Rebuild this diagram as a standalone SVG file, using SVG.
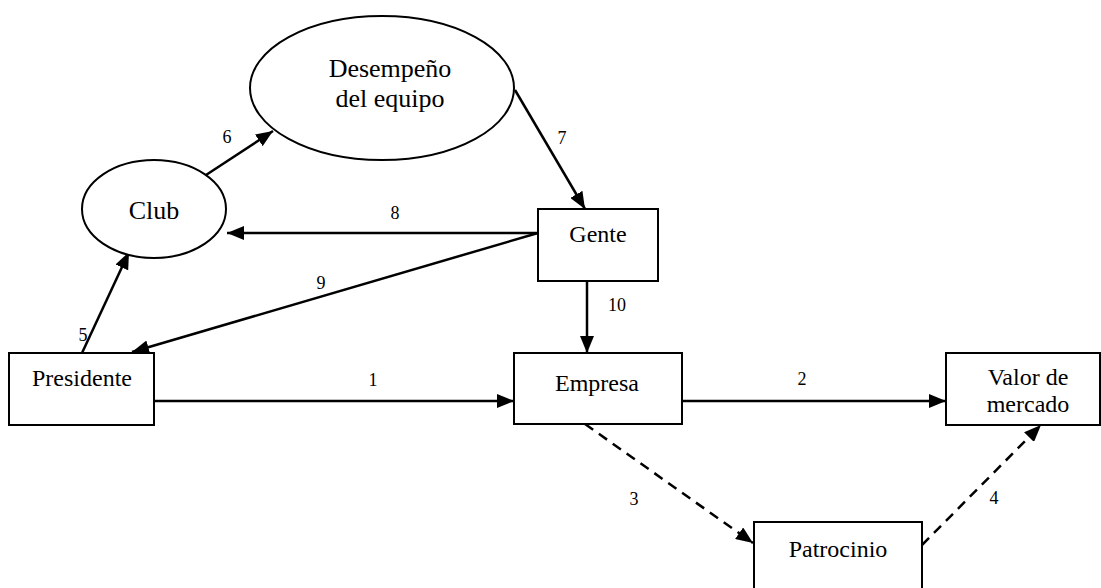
<svg xmlns="http://www.w3.org/2000/svg" width="1101" height="588" viewBox="0 0 1101 588">
<style>
.n{fill:#fff;stroke:#000;stroke-width:2}
.t{font-family:"Liberation Serif","Times New Roman",serif;font-size:24px;fill:#000;text-anchor:middle}
.b{font-size:26px}
.l{font-family:"Liberation Serif","Times New Roman",serif;font-size:18px;fill:#000;text-anchor:middle}
.c{fill:none;stroke:#000;stroke-width:2.5}
.d{stroke-dasharray:10,7}
</style>
<defs>
<marker id="a" markerUnits="userSpaceOnUse" markerWidth="18" markerHeight="14" refX="17" refY="7" orient="auto">
<path d="M0,0 L17,7 L0,14 z" fill="#000"/>
</marker>
</defs>
<rect width="1101" height="588" fill="#fff"/>
<g id="connectors">
<line class="c" x1="154" y1="401" x2="514" y2="401" marker-end="url(#a)"/>
<line class="c" x1="682" y1="401" x2="946" y2="401" marker-end="url(#a)"/>
<line class="c d" x1="585" y1="424" x2="753" y2="543" marker-end="url(#a)"/>
<line class="c d" x1="922" y1="545" x2="1041" y2="425" marker-end="url(#a)"/>
<line class="c" x1="82" y1="353" x2="129" y2="252" marker-end="url(#a)"/>
<line class="c" x1="206" y1="175" x2="273" y2="131" marker-end="url(#a)"/>
<line class="c" x1="515" y1="90" x2="585" y2="209" marker-end="url(#a)"/>
<line class="c" x1="538" y1="233" x2="227" y2="233" marker-end="url(#a)"/>
<line class="c" x1="538" y1="233" x2="132" y2="352" marker-end="url(#a)"/>
<line class="c" x1="587" y1="281" x2="587" y2="353" marker-end="url(#a)"/>
<text class="l" x="373" y="386">1</text>
<text class="l" x="802" y="385">2</text>
<text class="l" x="634" y="505">3</text>
<text class="l" x="994" y="504">4</text>
<text class="l" x="83" y="341">5</text>
<text class="l" x="227" y="143">6</text>
<text class="l" x="562" y="144">7</text>
<text class="l" x="395" y="219">8</text>
<text class="l" x="321" y="289">9</text>
<text class="l" x="617" y="311">10</text>
</g>
<g id="desempeno">
<ellipse class="n" cx="382" cy="88" rx="132" ry="72"/>
<text class="t b" x="390" y="77">Desempeño</text>
<text class="t b" x="390" y="107">del equipo</text>
</g>
<g id="club">
<ellipse class="n" cx="154" cy="209" rx="72" ry="49"/>
<text class="t b" x="154" y="219">Club</text>
</g>
<g id="gente">
<rect class="n" x="538" y="209" width="120" height="72"/>
<text class="t" x="598" y="242">Gente</text>
</g>
<g id="presidente">
<rect class="n" x="9" y="353" width="145" height="72"/>
<text class="t" x="82" y="386">Presidente</text>
</g>
<g id="empresa">
<rect class="n" x="514" y="353" width="168" height="71"/>
<text class="t" x="597" y="391">Empresa</text>
</g>
<g id="valor">
<rect class="n" x="946" y="353" width="154" height="72"/>
<text class="t" x="1028" y="385">Valor de</text>
<text class="t" x="1028" y="412">mercado</text>
</g>
<g id="patrocinio">
<rect class="n" x="754" y="522" width="168" height="80"/>
<text class="t" x="838" y="557">Patrocinio</text>
</g>
</svg>
